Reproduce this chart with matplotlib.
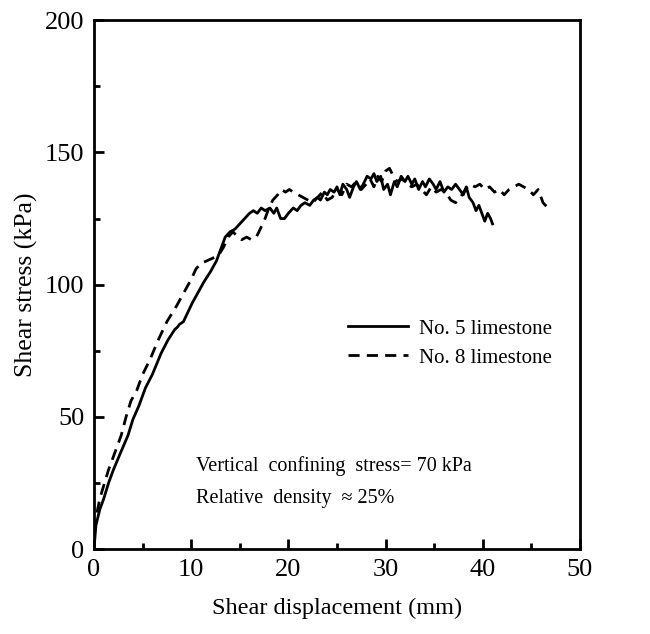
import numpy as np
import matplotlib.pyplot as plt
from matplotlib.ticker import MultipleLocator

plt.rcParams["font.family"] = ["Liberation Serif", "DejaVu Serif"]

# No. 5 limestone (solid)
no5_x = [0, 0.2, 0.6, 1.0, 1.5, 2.0, 2.8, 3.5, 4.0, 4.6,
         5.3, 6.0, 6.9, 7.6, 8.3, 8.6, 8.8, 9.2, 10.1, 10.7,
         11.3, 12.0, 12.6, 13.0, 13.5, 14.0, 14.5, 15.0, 15.5, 16.0,
         16.4, 16.8, 17.2, 17.6, 18.1, 18.5, 18.8, 19.2, 19.6, 20.0,
         20.5, 20.9, 21.3, 21.7, 22.2, 22.6, 23.0, 23.3, 23.7, 24.0,
         24.3, 24.7, 25.0, 25.3, 25.6, 26.0, 26.3, 26.7, 27.0, 27.4,
         27.7, 28.1, 28.5, 28.8, 29.1, 29.5, 29.8, 30.2, 30.5, 30.9,
         31.2, 31.6, 32.0, 32.3, 32.7, 33.0, 33.4, 33.8, 34.1, 34.5,
         34.9, 35.2, 35.6, 36.0, 36.4, 36.8, 37.2, 37.6, 38.0, 38.3,
         38.6, 39.0, 39.3, 39.6, 39.9, 40.2, 40.5, 40.8, 41.0]
no5_y = [0, 9, 15, 19, 25, 30, 37, 43, 49, 54,
         61, 66, 74, 79, 83, 84, 85, 86, 93, 97,
         101, 105, 109, 113, 118, 120, 121, 123, 125, 127,
         128, 127, 129, 128, 129, 127, 129, 125, 125, 127,
         129, 128, 130, 131, 130, 132, 133, 132, 135, 134,
         136, 135, 137, 134, 138, 136, 133, 137, 139, 136,
         138, 141, 140, 142, 139, 141, 136, 138, 134, 139,
         137, 141, 139, 141, 138, 140, 136, 139, 137, 140,
         138, 136, 139, 135, 137, 136, 138, 136, 134, 137,
         133, 131, 128, 130, 127, 124, 127, 125, 123]

# No. 8 limestone (dashed)
no8_x = [0, 0.2, 0.6, 1.0, 1.5, 2.2, 2.8, 3.3, 3.8, 4.4,
         5.0, 5.8, 6.6, 7.5, 8.5, 9.4, 10.0, 10.5, 11.0, 11.6,
         12.2, 12.8, 13.3, 13.8, 14.3, 14.8, 15.2, 15.7, 16.2, 16.7,
         17.1, 17.6, 18.0, 18.4, 18.9, 19.3, 19.7, 20.1, 20.5, 21.0,
         21.5, 22.0, 22.5, 23.0, 23.5, 24.0, 24.5, 25.0, 25.5, 26.0,
         26.5, 27.0, 27.5, 28.0, 28.4, 28.8, 29.2, 29.6, 30.0, 30.4,
         30.8, 31.2, 31.7, 32.2, 32.7, 33.2, 33.7, 34.2, 34.7, 35.2,
         35.7, 36.2, 36.7, 37.2, 37.7, 38.2, 38.7, 39.2, 39.7, 40.2,
         40.7, 41.2, 41.7, 42.2, 42.7, 43.2, 43.7, 44.2, 44.7, 45.2,
         45.7, 46.2, 46.7]
no8_y = [0, 12, 19, 24, 30, 37, 43, 50, 56, 60,
         66, 72, 79, 86, 92, 98, 102, 106, 108, 109,
         110, 111, 114, 118, 120, 118, 117, 118, 117, 118,
         121, 125, 129, 132, 134, 136, 135, 136, 135, 134,
         133, 132, 131, 133, 135, 132, 133, 136, 134, 138,
         137, 139, 136, 138, 140, 137, 141, 139, 143, 144,
         141, 139, 140, 138, 137, 138, 136, 134, 137, 135,
         136, 135, 132, 131, 133, 136, 138, 137, 138, 136,
         137, 135, 136, 134, 136, 137, 138, 137, 136, 134,
         136, 131, 129]

fig = plt.figure(figsize=(6.5, 6.34), dpi=100)
ax = fig.add_axes([0.1446, 0.134, 0.7477, 0.834])

ax.plot(no5_x, no5_y, color="black", lw=2.0, ls="-", label="No. 5 limestone")
ax.plot(no8_x, no8_y, color="black", lw=2.0, ls=(0, (4, 2.6)), label="No. 8 limestone")

ax.set_xlim(0, 50)
ax.set_ylim(0, 200)
ax.xaxis.set_major_locator(MultipleLocator(10))
ax.xaxis.set_minor_locator(MultipleLocator(5))
ax.yaxis.set_major_locator(MultipleLocator(50))
ax.yaxis.set_minor_locator(MultipleLocator(25))
ax.tick_params(which="both", direction="in", top=False, right=False, labelsize=19, width=2)
ax.tick_params(which="major", length=7, pad=7)
ax.tick_params(which="minor", length=4)
for s in ax.spines.values():
    s.set_linewidth(2)

ax.set_xlabel("Shear displacement (mm)", fontsize=17.5, labelpad=12)
ax.set_ylabel("Shear stress (kPa)", fontsize=18.5, labelpad=5)

ax.legend(loc="upper left", bbox_to_anchor=(0.522, 0.435), frameon=False, fontsize=15,
          handlelength=2.9, handletextpad=0.5, labelspacing=0.45, borderpad=0, borderaxespad=0)

ax.text(10.5, 31.5, "Vertical  confining  stress= 70 kPa", fontsize=14.5, va="center")
ax.text(10.5, 19.3, "Relative  density  \u2248 25%", fontsize=14.5, va="center")

fig.savefig("out.png")
